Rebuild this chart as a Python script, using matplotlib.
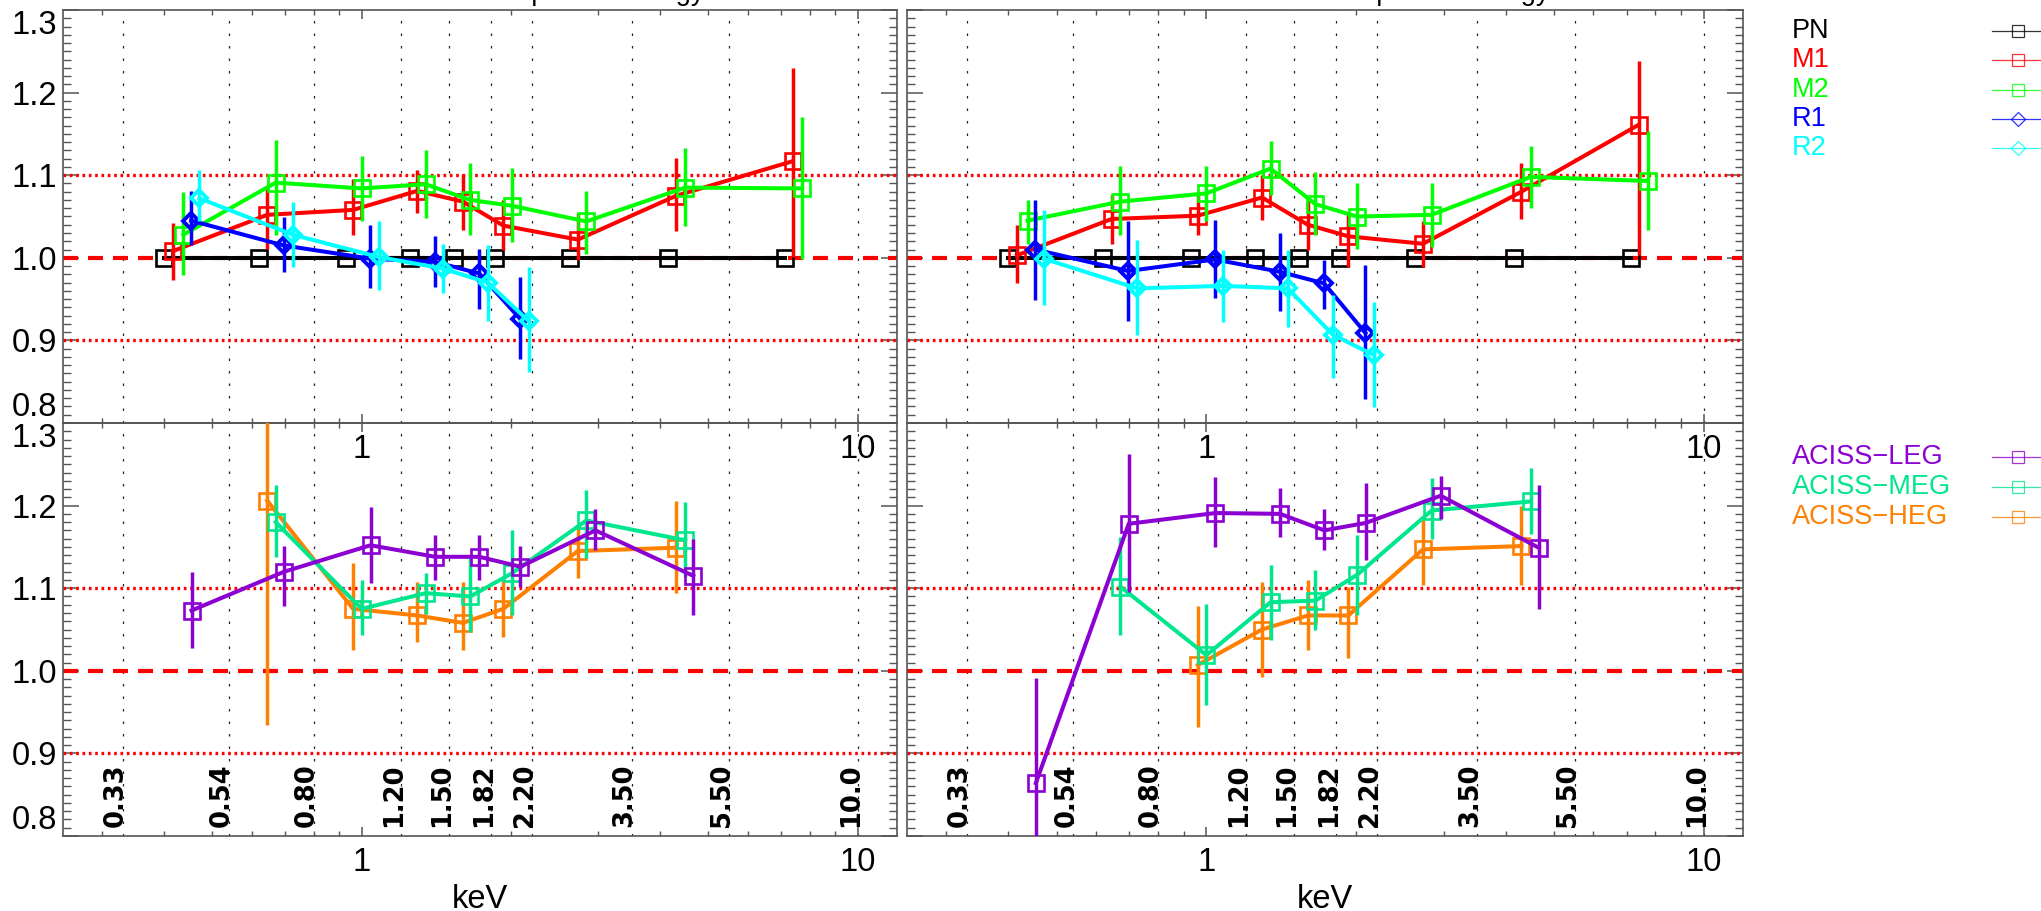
import numpy as np
import matplotlib.pyplot as plt
from matplotlib.ticker import FixedLocator, NullFormatter

plt.rcParams['font.family'] = ['Liberation Sans', 'DejaVu Sans']

# energy-band boundaries (keV)
bounds = [0.33, 0.54, 0.80, 1.20, 1.50, 1.82, 2.20, 3.50, 5.50, 10.0]
bound_labels = ['0.33', '0.54', '0.80', '1.20', '1.50', '1.82', '2.20', '3.50', '5.50', '10.0']

# bin energies (keV) of each instrument
e_pn = [0.40, 0.62, 0.93, 1.25, 1.535, 1.86, 2.63, 4.15, 7.15]
e_m1 = [0.416, 0.645, 0.961, 1.294, 1.60, 1.93, 2.727, 4.30, 7.40]
e_m2 = [0.437, 0.671, 1.0, 1.346, 1.656, 2.008, 2.837, 4.49, 7.72]
e_r1 = [0.453, 0.696, 1.04, 1.407, 1.725, 2.088]
e_r2 = [0.471, 0.726, 1.082, 1.458, 1.795, 2.175]
e_leg = [0.454, 0.698, 1.042, 1.407, 1.727, 2.09, 2.96, 4.66]
e_meg = [0.671, 1.0, 1.346, 1.656, 2.008, 2.837, 4.49]
e_heg = [0.645, 0.961, 1.294, 1.60, 1.93, 2.727, 4.30]

pn = [1.0, 1.0, 1.0, 1.0, 1.0, 1.0, 1.0, 1.0, 1.0]

# left column: ratio, lower and upper bound
m1_a = [1.008, 1.052, 1.058, 1.081, 1.068, 1.039, 1.022, 1.075, 1.117]
m1_a_lo = [0.973, 1.011, 1.028, 1.054, 1.034, 1.009, 0.997, 1.032, 1.001]
m1_a_hi = [1.042, 1.084, 1.096, 1.106, 1.102, 1.070, 1.054, 1.121, 1.230]
m2_a = [1.028, 1.091, 1.084, 1.089, 1.070, 1.063, 1.044, 1.085, 1.084]
m2_a_lo = [0.979, 1.028, 1.044, 1.048, 1.028, 1.019, 1.005, 1.038, 0.999]
m2_a_hi = [1.080, 1.143, 1.123, 1.131, 1.115, 1.109, 1.081, 1.133, 1.171]
r1_a = [1.045, 1.015, 0.999, 0.995, 0.981, 0.926]
r1_a_lo = [1.015, 0.983, 0.963, 0.965, 0.938, 0.878]
r1_a_hi = [1.081, 1.050, 1.040, 1.026, 1.011, 0.977]
r2_a = [1.072, 1.028, 1.001, 0.987, 0.970, 0.923]
r2_a_lo = [1.044, 0.989, 0.961, 0.957, 0.924, 0.862]
r2_a_hi = [1.106, 1.068, 1.044, 1.017, 1.015, 0.989]

leg_a = [1.073, 1.120, 1.152, 1.138, 1.138, 1.126, 1.170, 1.115]
leg_a_lo = [1.027, 1.078, 1.106, 1.110, 1.110, 1.102, 1.146, 1.067]
leg_a_hi = [1.120, 1.151, 1.198, 1.164, 1.164, 1.151, 1.196, 1.160]
meg_a = [1.180, 1.075, 1.094, 1.090, 1.118, 1.182, 1.158]
meg_a_lo = [1.138, 1.043, 1.069, 1.047, 1.067, 1.136, 1.114]
meg_a_hi = [1.225, 1.110, 1.118, 1.140, 1.170, 1.219, 1.204]
heg_a = [1.206, 1.075, 1.067, 1.058, 1.075, 1.145, 1.149]
heg_a_lo = [0.934, 1.025, 1.035, 1.025, 1.041, 1.112, 1.094]
heg_a_hi = [1.330, 1.130, 1.108, 1.108, 1.112, 1.178, 1.206]

# right column
m1_b = [1.003, 1.047, 1.051, 1.073, 1.040, 1.026, 1.017, 1.080, 1.161]
m1_b_lo = [0.969, 1.017, 1.028, 1.046, 1.009, 0.989, 0.989, 1.047, 1.003]
m1_b_hi = [1.040, 1.076, 1.080, 1.100, 1.070, 1.054, 1.044, 1.115, 1.238]
m2_b = [1.045, 1.068, 1.078, 1.108, 1.065, 1.050, 1.052, 1.098, 1.093]
m2_b_lo = [1.017, 1.028, 1.044, 1.076, 1.028, 1.011, 1.013, 1.060, 1.034]
m2_b_hi = [1.070, 1.111, 1.111, 1.141, 1.104, 1.090, 1.090, 1.135, 1.153]
r1_b = [1.010, 0.984, 0.998, 0.983, 0.969, 0.909]
r1_b_lo = [0.949, 0.924, 0.951, 0.936, 0.938, 0.829]
r1_b_hi = [1.070, 1.044, 1.046, 1.030, 0.997, 0.991]
r2_b = [0.999, 0.963, 0.966, 0.963, 0.907, 0.882]
r2_b_lo = [0.943, 0.906, 0.922, 0.916, 0.855, 0.819]
r2_b_hi = [1.058, 1.021, 1.009, 1.009, 0.955, 0.947]

leg_b = [0.864, 1.178, 1.191, 1.190, 1.170, 1.179, 1.212, 1.149]
leg_b_lo = [0.770, 1.096, 1.150, 1.162, 1.146, 1.134, 1.184, 1.075]
leg_b_hi = [0.991, 1.262, 1.235, 1.221, 1.196, 1.227, 1.236, 1.225]
meg_b = [1.102, 1.019, 1.083, 1.085, 1.116, 1.194, 1.205]
meg_b_lo = [1.043, 0.958, 1.037, 1.049, 1.067, 1.160, 1.166]
meg_b_hi = [1.162, 1.081, 1.128, 1.122, 1.164, 1.233, 1.245]
heg_b = [1.007, 1.050, 1.067, 1.067, 1.147, 1.151]
heg_b_lo = [0.932, 0.993, 1.025, 1.015, 1.104, 1.104]
heg_b_hi = [1.079, 1.108, 1.110, 1.102, 1.186, 1.200]

epic_names = ['PN', 'M1', 'M2', 'R1', 'R2']
epic_colors = ['black', '#ff0000', '#00ff00', '#0000ff', '#00ffff']
epic_markers = ['s', 's', 's', 'D', 'D']
grat_names = ['ACISS\u2212LEG', 'ACISS\u2212MEG', 'ACISS\u2212HEG']
grat_colors = ['#8c00d2', '#00e68c', '#ff8000']

yticks = [0.8, 0.9, 1.0, 1.1, 1.2, 1.3]
ytick_labels = ['0.8', '0.9', '1.0', '1.1', '1.2', '1.3']

W, H = 2041, 911
LABEL_SIZE = 23.5
fig = plt.figure(figsize=(W / 100, H / 100), dpi=100)


def box(x0, y0, x1, y1):
    return [x0 / W, 1 - y1 / H, (x1 - x0) / W, (y1 - y0) / H]


def setup(ax, left, bottom):
    ax.set_facecolor('none')
    ax.set_xscale('log')
    ax.set_xlim(0.25, 12)
    ax.set_ylim(0.8, 1.3)
    for v in bounds:
        ax.axvline(v, color='#222222', lw=0.9, ls=(0, (2, 8)), zorder=1)
    ax.axhline(1.0, color='red', lw=3, ls=(0, (3.6, 2.4)), zorder=2)
    for v in (0.9, 1.1):
        ax.axhline(v, color='red', lw=2.4, ls=(0, (0.8, 1.1)), zorder=2)

    ax.xaxis.set_major_locator(FixedLocator([1, 10]))
    ax.xaxis.set_minor_locator(FixedLocator([0.3, 0.4, 0.5, 0.6, 0.7, 0.8, 0.9,
                                             2, 3, 4, 5, 6, 7, 8, 9]))
    ax.xaxis.set_minor_formatter(NullFormatter())
    ax.set_xticklabels(['1', '10'])
    ax.yaxis.set_major_locator(FixedLocator(yticks))
    ax.yaxis.set_minor_locator(FixedLocator(np.arange(0.8, 1.3001, 0.01)))
    ax.tick_params(axis='both', which='both', direction='in', colors='#555555',
                   labelcolor='black', labelsize=LABEL_SIZE, top=True, right=True)
    ax.tick_params(axis='y', which='major', length=11.5, width=1.1, pad=4)
    ax.tick_params(axis='y', which='minor', length=5.8, width=1.0)
    ax.tick_params(axis='x', which='major', length=6.5, width=1.1, pad=8)
    ax.tick_params(axis='x', which='minor', length=3.6, width=1.0)
    for s in ax.spines.values():
        s.set_color('#555555')
        s.set_linewidth(1.2)
    if left:
        labs = ax.set_yticklabels(ytick_labels)
        labs[0].set_verticalalignment('bottom')
        labs[-1].set_verticalalignment('top')
    else:
        ax.set_yticklabels([])
    if bottom:
        ax.set_xlabel('keV', fontsize=LABEL_SIZE, labelpad=4)
        for v, lbl in zip(bounds, bound_labels):
            ax.text(v, 0.849, lbl, rotation=90, rotation_mode='anchor',
                    ha='center', va='baseline', fontsize=18.5,
                    fontweight='bold', family='DejaVu Sans', zorder=3)


def series(ax, x, y, lo, hi, color, marker, z):
    y = np.array(y)
    err = [y - np.array(lo), np.array(hi) - y]
    ms, mew = (12, 1.9) if marker == 's' else (8, 2.8)
    ax.errorbar(x, y, yerr=err, color=color, lw=2.9, elinewidth=2.5, capsize=0,
                marker=marker, ms=ms, mfc='none', mec=color, mew=mew, zorder=z)


ax_tl = fig.add_axes(box(63, 10, 897, 423))
ax_tr = fig.add_axes(box(907, 10, 1743, 423))
ax_bl = fig.add_axes(box(63, 423, 897, 836))
ax_br = fig.add_axes(box(907, 423, 1743, 836))

setup(ax_tl, True, False)
setup(ax_tr, False, False)
setup(ax_bl, True, True)
setup(ax_br, False, True)

for ax, m1, m2, r1, r2 in [
        (ax_tl, (m1_a, m1_a_lo, m1_a_hi), (m2_a, m2_a_lo, m2_a_hi),
         (r1_a, r1_a_lo, r1_a_hi), (r2_a, r2_a_lo, r2_a_hi)),
        (ax_tr, (m1_b, m1_b_lo, m1_b_hi), (m2_b, m2_b_lo, m2_b_hi),
         (r1_b, r1_b_lo, r1_b_hi), (r2_b, r2_b_lo, r2_b_hi))]:
    ax.plot(e_pn, pn, color='black', lw=2.9, marker='s', ms=12, mfc='none',
            mew=1.9, zorder=4)
    series(ax, e_m1, *m1, epic_colors[1], 's', 5)
    series(ax, e_m2, *m2, epic_colors[2], 's', 6)
    series(ax, e_r1, *r1, epic_colors[3], 'D', 7)
    series(ax, e_r2, *r2, epic_colors[4], 'D', 8)

series(ax_bl, e_heg, heg_a, heg_a_lo, heg_a_hi, grat_colors[2], 's', 5)
series(ax_bl, e_meg, meg_a, meg_a_lo, meg_a_hi, grat_colors[1], 's', 6)
series(ax_bl, e_leg, leg_a, leg_a_lo, leg_a_hi, grat_colors[0], 's', 7)
series(ax_br, e_heg[1:], heg_b, heg_b_lo, heg_b_hi, grat_colors[2], 's', 5)
series(ax_br, e_meg, meg_b, meg_b_lo, meg_b_hi, grat_colors[1], 's', 6)
series(ax_br, e_leg, leg_b, leg_b_lo, leg_b_hi, grat_colors[0], 's', 7)

# overlay in pixel units for the titles and the key
over = fig.add_axes([0, 0, 1, 1], zorder=10)
over.set_xlim(0, W)
over.set_ylim(H, 0)
over.axis('off')

for cx in (480, 1325):
    over.text(cx, 0, 'Normalization ratio vs. photon energy', ha='center',
              va='baseline', fontsize=19.5)


def key(rows, names, colors, markers, size):
    for y, name, c, m in zip(rows, names, colors, markers):
        over.text(1792, y, name, color=c, fontsize=size, va='center', ha='left')
        over.plot([1992, 2045], [y, y], color=c, lw=0.9, alpha=0.8)
        over.plot([2018], [y], marker=m, ms=8.5 if m == 's' else 7.5,
                  mfc='none', mec=c, mew=0.9, alpha=0.8)


key([31, 60, 90, 119, 148], epic_names, epic_colors, epic_markers, 19.5)
key([457, 487, 517], grat_names, grat_colors, ['s', 's', 's'], 19.5)

fig.savefig('out.png', dpi=100)
